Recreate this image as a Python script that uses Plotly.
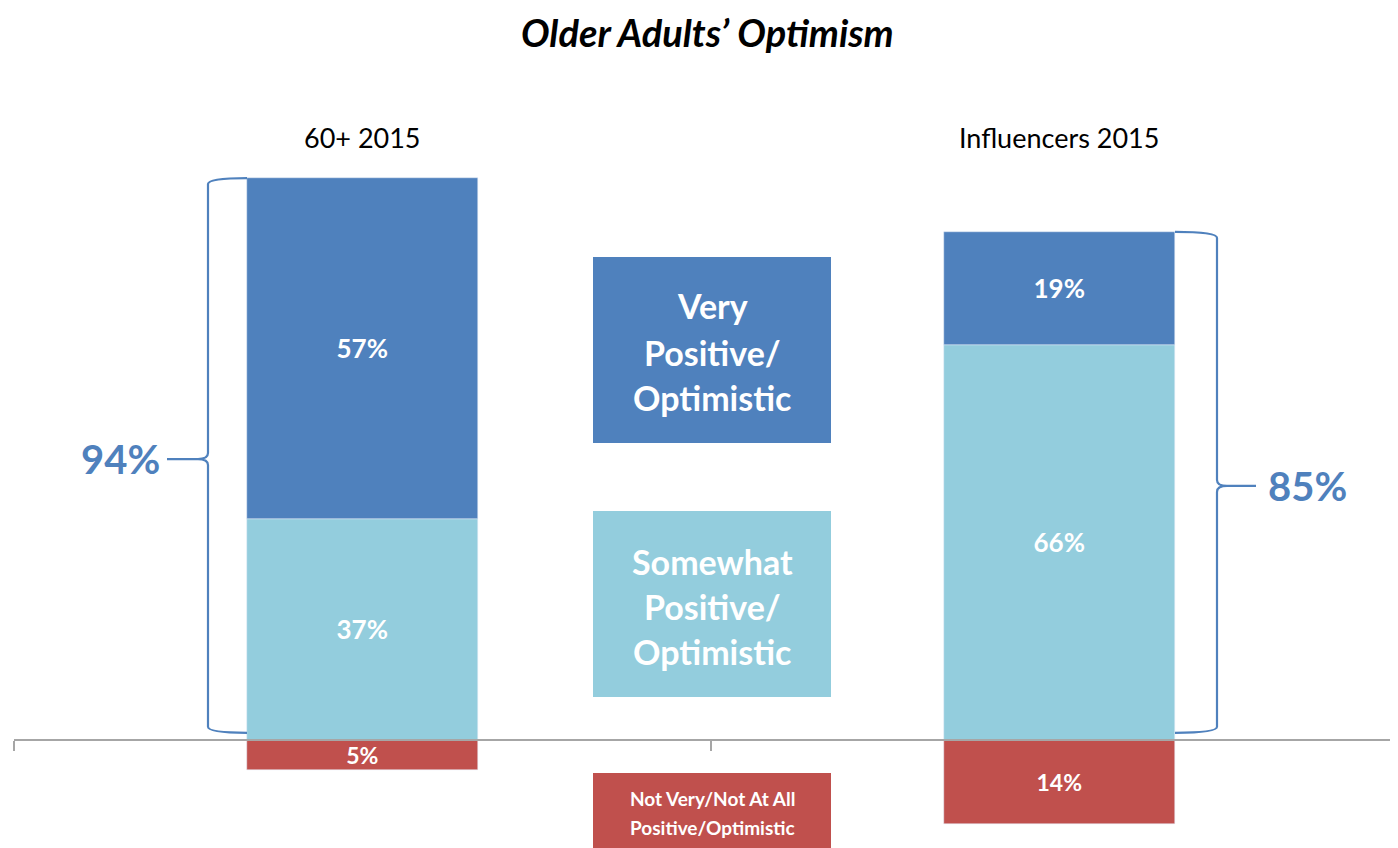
import plotly.graph_objects as go

# data
groups = ["60+ 2015", "Influencers 2015"]
somewhat = [37, 66]
very = [57, 19]
not_very = [5, 14]
totals = [94, 85]

DARK = "#4F81BD"
LIGHT = "#93CDDD"
RED = "#C0504D"
FONT = "Lato"

# page body has an 8px margin, so the figure sits at (8, 8) in the window
OFF = 8
W, H = 1398 - OFF, 848 - OFF
ML = 14 - OFF
PX_PER_PCT = 5.978
ZERO_PX = 740 - OFF


def xp(px):
    """window pixel x -> paper x"""
    return (px - OFF - ML) / (W - ML)


def yp(py):
    """window pixel y -> paper y"""
    return (H - (py - OFF)) / H


fig = go.Figure()

fig.add_trace(go.Bar(
    x=groups, y=somewhat, marker_color=LIGHT, width=0.332,
    text=[f"<b>{v}%</b>" for v in somewhat], textposition="inside", constraintext="none",
    insidetextanchor="middle", textfont=dict(color="white", size=26, family=FONT),
    name="Somewhat Positive/Optimistic",
))
fig.add_trace(go.Bar(
    x=groups, y=very, marker_color=DARK, width=0.332,
    text=[f"<b>{v}%</b>" for v in very], textposition="inside", constraintext="none",
    insidetextanchor="middle", textfont=dict(color="white", size=26, family=FONT),
    name="Very Positive/Optimistic",
))
fig.add_trace(go.Bar(
    x=groups, y=[-v for v in not_very], marker_color=RED, width=0.332,
    text=[f"<b>{v}%</b>" for v in not_very], textposition="inside", constraintext="none",
    insidetextanchor="middle", textfont=dict(color="white", size=23, family=FONT),
    name="Not Very/Not At All Positive/Optimistic",
))

y_top = ZERO_PX / PX_PER_PCT
y_bot = -(H - ZERO_PX) / PX_PER_PCT

shapes = []
annotations = []


def bracket(edge_px, line_px, tip_px, total):
    # curly brace from the bar edge, x in paper units, y in data units
    s = 1 if tip_px < line_px else -1
    e, l, t = xp(edge_px), xp(line_px), xp(tip_px)
    k = xp(line_px - s * 10)
    mid = total / 2
    r = 1.0
    top, bot = total, 1.2
    path = (
        f"M {e},{top} Q {l},{top} {l},{top - r} "
        f"L {l},{mid + r} Q {l},{mid} {k},{mid} L {t},{mid} "
        f"M {k},{mid} Q {l},{mid} {l},{mid - r} "
        f"L {l},{bot + r} Q {l},{bot} {e},{bot}"
    )
    return dict(type="path", path=path, xref="paper", yref="y",
                line=dict(color=DARK, width=2.2))


shapes.append(bracket(247, 208, 167, totals[0]))
shapes.append(bracket(1175, 1217, 1256, totals[1]))

annotations.append(dict(x=xp(162), y=totals[0] / 2, xref="paper", yref="y",
                        text=f"<b>{totals[0]}%</b>", showarrow=False,
                        xanchor="right", yanchor="middle",
                        font=dict(color=DARK, size=40, family=FONT)))
annotations.append(dict(x=xp(1266), y=totals[1] / 2, xref="paper", yref="y",
                        text=f"<b>{totals[1]}%</b>", showarrow=False,
                        xanchor="left", yanchor="middle",
                        font=dict(color=DARK, size=40, family=FONT)))

# legend boxes in the middle: (top, bottom, colour, lines with their y, font size)
boxes = [
    (257, 443, DARK, [("Very", 306), ("Positive/", 352), ("Optimistic", 397)], 34),
    (511, 697, LIGHT, [("Somewhat", 561), ("Positive/", 606), ("Optimistic", 651)], 34),
    (773, 860, RED, [("Not Very/Not At All", 798), ("Positive/Optimistic", 827)], 19),
]
for top, bot, col, lines, size in boxes:
    shapes.append(dict(type="rect", xref="paper", yref="paper",
                       x0=xp(593), x1=xp(831), y0=yp(bot), y1=yp(top),
                       fillcolor=col, line=dict(width=0), layer="below"))
    for txt, ly in lines:
        annotations.append(dict(x=xp(712), y=yp(ly), xref="paper", yref="paper",
                                text=f"<b>{txt}</b>", showarrow=False,
                                xanchor="center", yanchor="middle",
                                font=dict(color="white", size=size, family=FONT)))

# group labels above bars
for g in groups:
    annotations.append(dict(x=g, y=yp(137), xref="x", yref="paper", text=g,
                            showarrow=False, xanchor="center", yanchor="middle",
                            font=dict(color="black", size=27, family=FONT)))

annotations.append(dict(x=xp(707), y=1, xref="paper", yref="paper",
                        text="<b><i>Older Adults’ Optimism</i></b>", showarrow=False,
                        xanchor="center", yanchor="top", borderpad=0,
                        font=dict(color="black", size=38, family=FONT)))

fig.update_layout(
    width=W, height=H,
    margin=dict(l=ML, r=0, t=0, b=0),
    barmode="relative",
    bargap=0,
    showlegend=False,
    plot_bgcolor="white", paper_bgcolor="white",
    shapes=shapes, annotations=annotations,
    xaxis=dict(
        range=[-0.5, -0.5 + (W - ML) / 696.9], anchor="free", position=(H - ZERO_PX) / H,
        showline=True, linecolor="#A6A6A6", linewidth=2,
        ticks="outside", tickson="boundaries", ticklen=10, tickcolor="#A6A6A6", tickwidth=2,
        showticklabels=False, showgrid=False, zeroline=False, fixedrange=True,
    ),
    yaxis=dict(range=[y_bot, y_top], visible=False, fixedrange=True),
)

fig.write_html("out.html")
